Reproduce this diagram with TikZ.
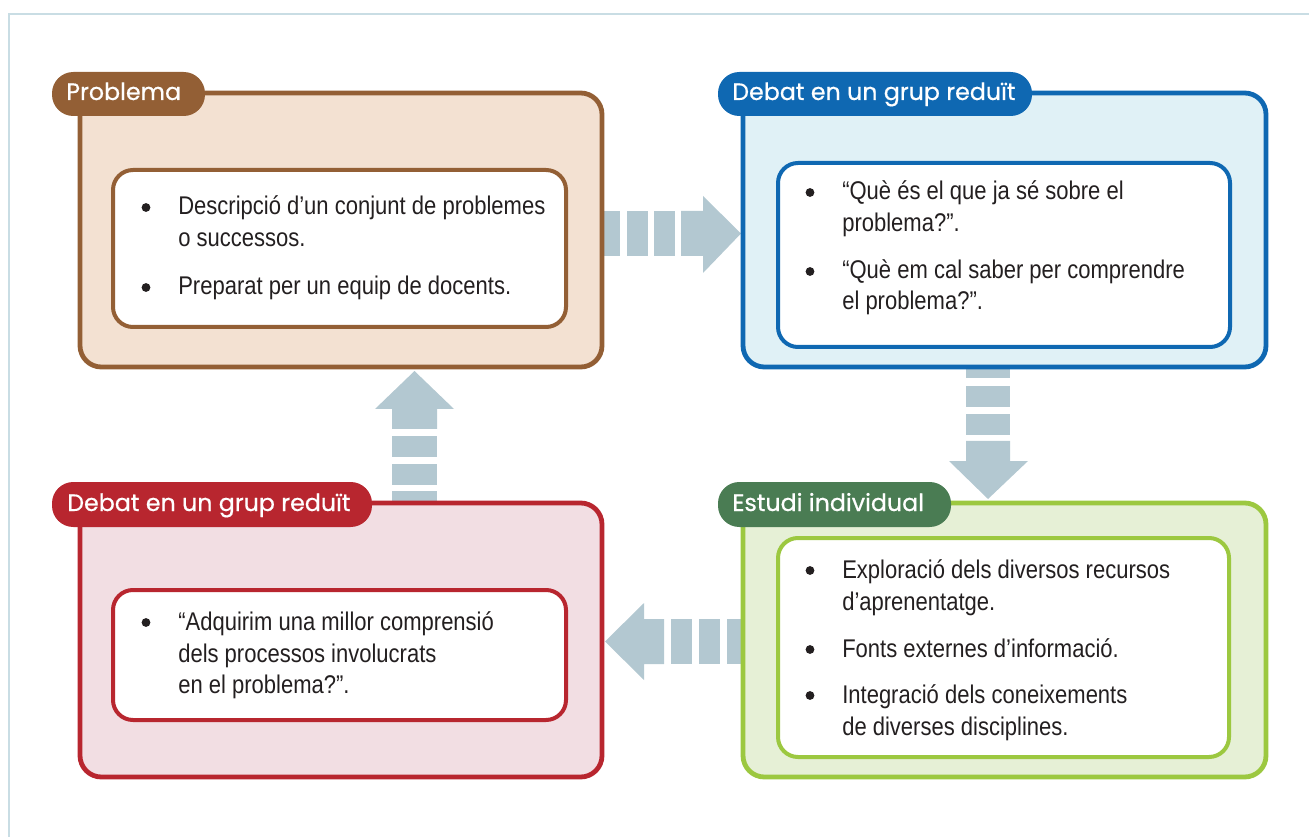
\documentclass[tikz,border=0pt]{standalone}
\usepackage{fontspec}
\newfontfamily\bodyfont[FakeStretch=0.86]{Liberation Sans}
\newfontfamily\tabfont[FakeBold=0.6]{Poppins}
\definecolor{brownc}{HTML}{935F35}
\definecolor{brownf}{HTML}{F3E1D2}
\definecolor{bluec}{HTML}{0F68B2}
\definecolor{bluef}{HTML}{E0F1F6}
\definecolor{redc}{HTML}{B8262F}
\definecolor{redf}{HTML}{F2DEE3}
\definecolor{greent}{HTML}{4A7C53}
\definecolor{greenc}{HTML}{9CC840}
\definecolor{greenf}{HTML}{E6F0D6}
\definecolor{arrowc}{HTML}{B3C8D1}
\definecolor{framec}{HTML}{C9DDE4}
\definecolor{textc}{HTML}{231F20}
\tikzset{
  outerbox/.style={line width=3.6pt, rounded corners=16pt},
  innerbox/.style={line width=3pt, fill=white, rounded corners=15pt},
  tabbox/.style={rounded corners=16pt},
  tabtext/.style={anchor=base west, inner sep=0pt, text=white, font=\tabfont\fontsize{17.8}{20}\selectfont},
  bodytext/.style={anchor=base west, inner sep=0pt, text=textc, font=\bodyfont\fontsize{19.2}{22}\selectfont},
  bulletdot/.style={circle, fill=textc, inner sep=0pt, minimum size=6.6pt},
  arrowpiece/.style={fill=arrowc, draw=none}
}
\begin{document}
\begin{tikzpicture}[x=0.75pt,y=-0.75pt]
\useasboundingbox (0,0) rectangle (1309,837);
% frame
\draw[framec, line width=1.5pt] (9,837) -- (9,14) -- (1309,14);

% arrows (behind boxes)
% right arrow 1 -> 2
\fill[arrowpiece] (598,211) rectangle (620,256);
\fill[arrowpiece] (627,211) rectangle (648,256);
\fill[arrowpiece] (654,211) rectangle (675,256);
\fill[arrowpiece] (681,211) -- (703,211) -- (703,196) -- (741,233.5) -- (703,273) -- (703,256) -- (681,256) -- cycle;
% down arrow 2 -> 4
\fill[arrowpiece] (966,362) rectangle (1010,378);
\fill[arrowpiece] (966,386) rectangle (1010,407);
\fill[arrowpiece] (966,414) rectangle (1010,435);
\fill[arrowpiece] (966,441) -- (966,461) -- (949,461) -- (988,499) -- (1028,461) -- (1010,461) -- (1010,441) -- cycle;
% left arrow 4 -> 3
\fill[arrowpiece] (664,619) -- (644,619) -- (644,603) -- (605,641.5) -- (644,680) -- (644,664) -- (664,664) -- cycle;
\fill[arrowpiece] (671,619) rectangle (692,664);
\fill[arrowpiece] (699,619) rectangle (720,664);
\fill[arrowpiece] (727,619) rectangle (748,664);
% up arrow 3 -> 1
\fill[arrowpiece] (392,429) -- (392,409) -- (375,409) -- (414.5,371) -- (454,409) -- (437,409) -- (437,429) -- cycle;
\fill[arrowpiece] (392,436) rectangle (437,457);
\fill[arrowpiece] (392,464) rectangle (437,485);
\fill[arrowpiece] (392,491) rectangle (437,508);

% Box 1: Problema
\draw[outerbox, draw=brownc, fill=brownf] (80,93) rectangle (602,367);
\fill[tabbox, brownc] (52,72) rectangle (205,116);
\node[tabtext] (t1) at (66,100) {Problema};
\draw[innerbox, draw=brownc] (113,170) rectangle (566,327);
\node[bulletdot] (b1a) at (146,207.5) {};
\node[bodytext] (l1a) at (178,215) {Descripció d’un conjunt de problemes};
\node[bodytext] (l1b) at (178,247) {o successos.};
\node[bulletdot] (b1b) at (146,287.5) {};
\node[bodytext] (l1c) at (178,295) {Preparat per un equip de docents.};

% Box 2: Debat (blue)
\draw[outerbox, draw=bluec, fill=bluef] (743,93) rectangle (1266,367);
\fill[tabbox, bluec] (718,72) rectangle (1032,116);
\node[tabtext] (t2) at (732,100) {Debat en un grup reduït};
\draw[innerbox, draw=bluec] (778,163) rectangle (1230,347);
\node[bulletdot] (b2a) at (810,192.5) {};
\node[bodytext] (l2a) at (842,200) {“Què és el que ja sé sobre el};
\node[bodytext] (l2b) at (842,232) {problema?”.};
\node[bulletdot] (b2b) at (810,271.5) {};
\node[bodytext] (l2c) at (842,279) {“Què em cal saber per comprendre};
\node[bodytext] (l2d) at (842,310) {el problema?”.};

% Box 3: Debat (red)
\draw[outerbox, draw=redc, fill=redf] (80,503) rectangle (602,777);
\fill[tabbox, redc] (52,482) rectangle (372,527);
\node[tabtext] (t3) at (67,511) {Debat en un grup reduït};
\draw[innerbox, draw=redc] (113,590) rectangle (566,720);
\node[bulletdot] (b3a) at (146,622.5) {};
\node[bodytext] (l3a) at (178,630) {“Adquirim una millor comprensió};
\node[bodytext] (l3b) at (178,662) {dels processos involucrats};
\node[bodytext] (l3c) at (178,693) {en el problema?”.};

% Box 4: Estudi individual (green)
\draw[outerbox, draw=greenc, fill=greenf] (743,503) rectangle (1266,777);
\fill[tabbox, greent] (718,482) rectangle (951,527);
\node[tabtext] (t4) at (732,511) {Estudi individual};
\draw[innerbox, draw=greenc] (778,538) rectangle (1229,757);
\node[bulletdot] (b4a) at (810,570.5) {};
\node[bodytext] (l4a) at (842,578) {Exploració dels diversos recursos};
\node[bodytext] (l4b) at (842,610) {d’aprenentatge.};
\node[bulletdot] (b4b) at (810,649.5) {};
\node[bodytext] (l4c) at (842,657) {Fonts externes d’informació.};
\node[bulletdot] (b4c) at (810,695.5) {};
\node[bodytext] (l4d) at (842,703) {Integració dels coneixements};
\node[bodytext] (l4e) at (842,735) {de diverses disciplines.};
\end{tikzpicture}
\end{document}
